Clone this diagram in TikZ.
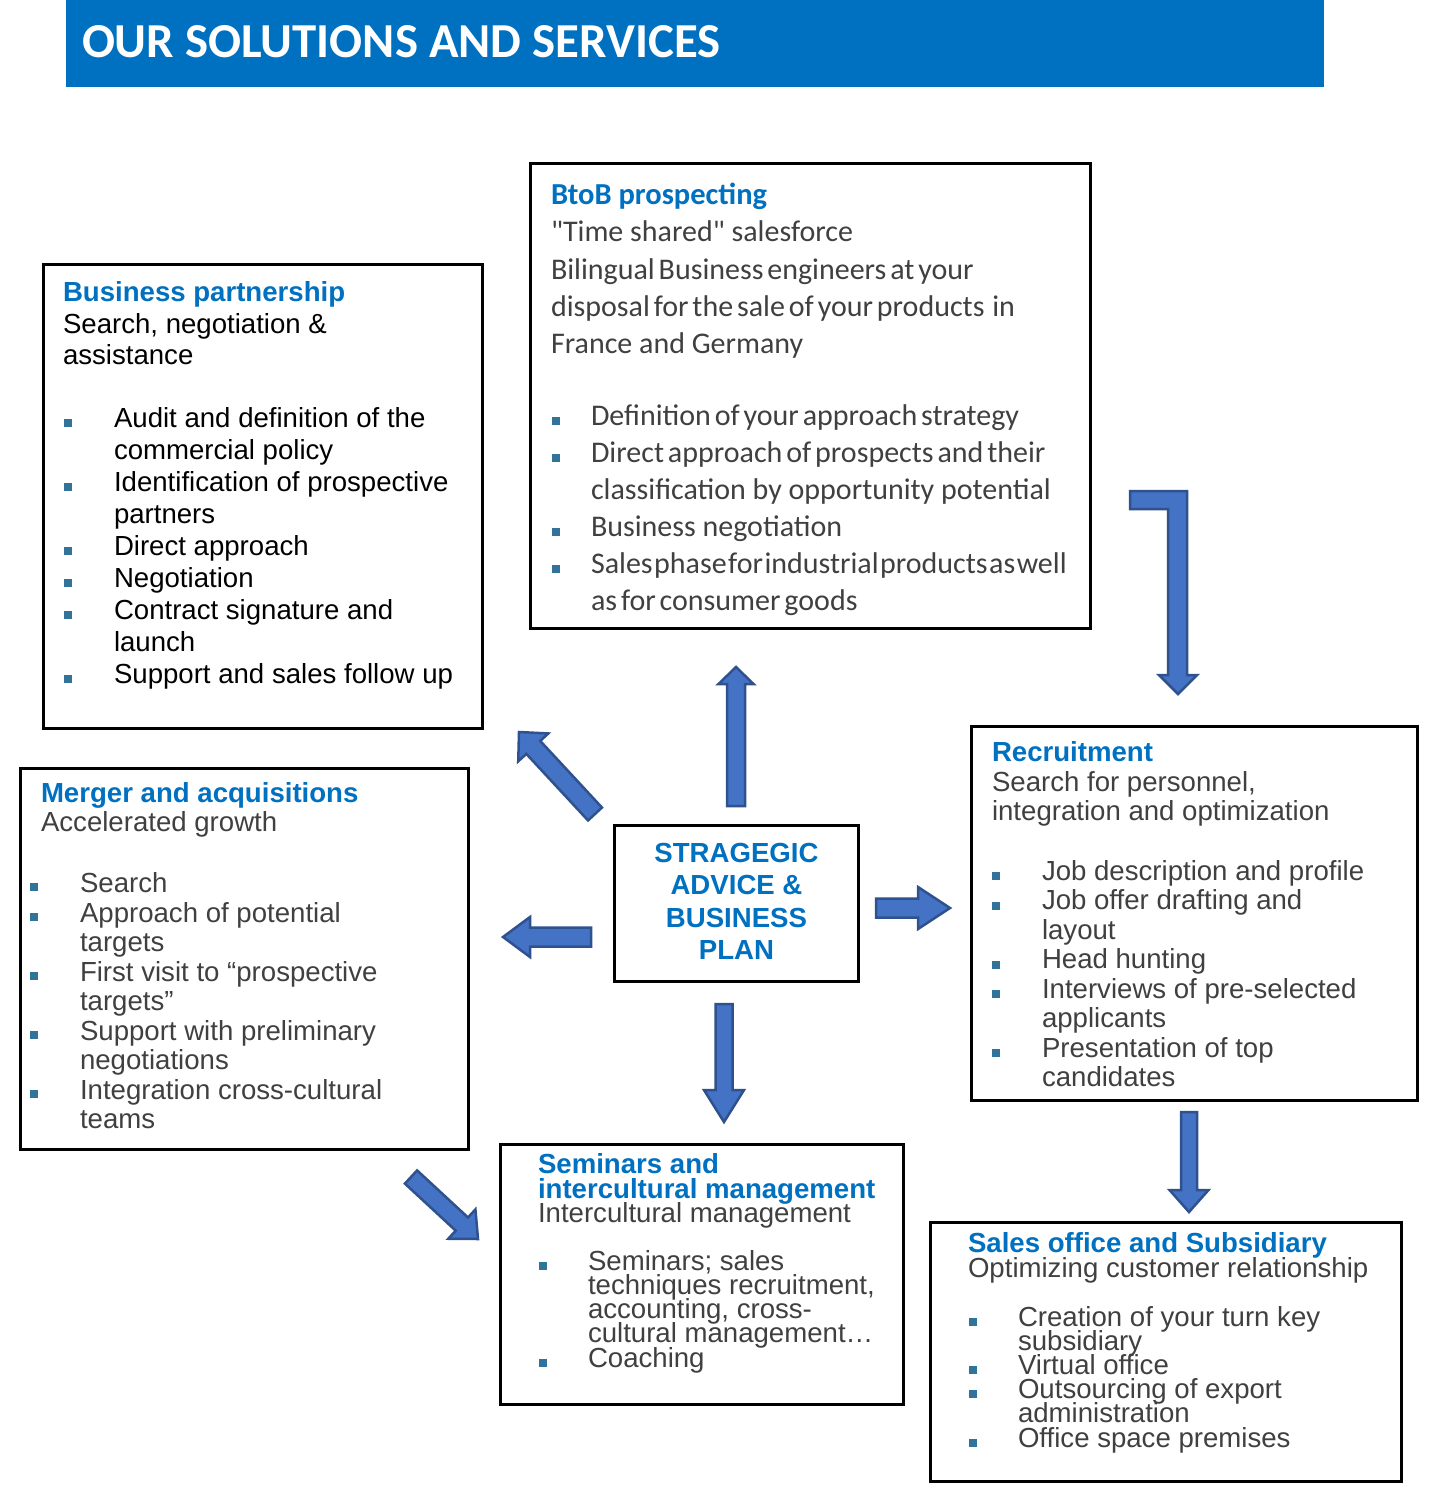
\documentclass[tikz,border=0pt]{standalone}
\usepackage{fontspec}
\setmainfont{Liberation Sans}
\newfontfamily\calibrifont{Carlito}
\usetikzlibrary{calc}
\definecolor{hdrblue}{RGB}{0,112,192}
\definecolor{headblue}{RGB}{0,112,192}
\definecolor{bulc}{RGB}{49,115,155}
\definecolor{graytxt}{RGB}{64,64,64}
\definecolor{arrfill}{RGB}{68,114,196}
\definecolor{arrdraw}{RGB}{47,82,143}
\newcommand\tightsp[1]{\spaceskip=0.13em\relax #1}
\newcommand\tightersp[1]{\spaceskip=0.05em\relax #1}
\newcommand\blockarrow[6]{% name, from, to, shaft half width, head half width, head length
  \coordinate (#1h) at ($(#3)!#6!(#2)$);
  \draw[barrow] ($(#2)!#4!90:(#3)$) -- ($(#1h)!#4!90:(#3)$) -- ($(#1h)!#5!90:(#3)$) -- (#3)
     -- ($(#1h)!#5!-90:(#3)$) -- ($(#1h)!#4!-90:(#3)$) -- ($(#2)!#4!-90:(#3)$) -- cycle;}
\begin{document}
\begin{tikzpicture}[x=1pt,y=-1pt,
  box/.style={draw=black, line width=3pt, inner sep=0pt, fill=none},
  ln/.style={anchor=base west, inner sep=0pt, outer sep=0pt},
  ctrln/.style={anchor=base, inner sep=0pt, outer sep=0pt, text=headblue,
      font=\fontsize{27.6}{32}\selectfont\bfseries},
  ar/.style={ln, font=\fontsize{27.6}{32}\selectfont},
  arb/.style={ln, font=\fontsize{27.6}{32}\selectfont\bfseries, text=headblue},
  cb/.style={ln, font=\calibrifont\fontsize{30}{36}\selectfont, text=graytxt},
  cbb/.style={ln, font=\calibrifont\fontsize{30.5}{36}\selectfont\bfseries, text=headblue},
  bul/.style={fill=bulc, minimum size=8pt, inner sep=0pt, outer sep=0pt},
  barrow/.style={fill=arrfill, draw=arrdraw, line width=2.5pt, line join=miter},
]
\useasboundingbox (0,0) rectangle (1437,1491);
\fill[white] (0,0) rectangle (1437,1491);

% header
\node[fill=hdrblue, minimum width=1258pt, minimum height=87pt, anchor=north west, inner sep=0pt] (hdr) at (66,0) {};
\node[ln, font=\calibrifont\fontsize{48.8}{50}\selectfont\bfseries, text=white] (title) at (82,57) {OUR SOLUTIONS AND SERVICES};

% boxes
\node[box, minimum width=439pt, minimum height=464pt] (bp) at (263,496.5) {};
\node[box, minimum width=560pt, minimum height=465pt] (btob) at (810.5,396) {};
\node[box, minimum width=448pt, minimum height=381pt] (ma) at (244.5,959) {};
\node[box, minimum width=244pt, minimum height=156pt] (ctr) at (736.5,903.5) {};
\node[box, minimum width=446pt, minimum height=374pt] (rec) at (1194.5,913.5) {};
\node[box, minimum width=403pt, minimum height=260pt] (sem) at (702,1274.5) {};
\node[box, minimum width=471pt, minimum height=259pt] (sal) at (1166,1352) {};

% center text
\node[ctrln] (c1) at (736.5,862) {STRAGEGIC};
\node[ctrln] (c2) at (736.5,894) {ADVICE \&};
\node[ctrln] (c3) at (736.5,927) {BUSINESS};
\node[ctrln] (c4) at (736.5,959) {PLAN};

% Business partnership
\node[arb] (bph) at (63,301) {Business partnership};
\node[ar] (bps1) at (63,333) {Search, negotiation \&};
\node[ar] (bps2) at (63,364) {assistance};
\node[ar] (bpl1) at (114,427) {Audit and definition of the};
\node[ar] (bpl2) at (114,459) {commercial policy};
\node[ar] (bpl3) at (114,491) {Identification of prospective};
\node[ar] (bpl4) at (114,523) {partners};
\node[ar] (bpl5) at (114,555) {Direct approach};
\node[ar] (bpl6) at (114,587) {Negotiation};
\node[ar] (bpl7) at (114,619) {Contract signature and};
\node[ar] (bpl8) at (114,651) {launch};
\node[ar] (bpl9) at (114,683) {Support and sales follow up};
\foreach \y [count=\i] in {427,491,555,587,619,683}
  \node[bul] (bpb\i) at (68,\y-4) {};

% BtoB prospecting
\node[cbb] (bth) at (551,204) {BtoB prospecting};
\node[cb] (bts1) at (551,241) {"Time shared" salesforce};
\node[cb] (bts2) at (551,279) {\tightsp{Bilingual Business engineers at your}};
\node[cb] (bts3) at (551,316) {\tightsp{disposal for the sale of your products\ \ in}};
\node[cb] (bts4) at (551,353) {France and Germany};
\node[cb] (btl1) at (591,425) {\tightsp{Definition of your approach strategy}};
\node[cb] (btl2) at (591,462) {\tightsp{Direct approach of prospects and their}};
\node[cb] (btl3) at (591,499) {classification by opportunity potential};
\node[cb] (btl4) at (591,536) {Business negotiation};
\node[cb] (btl5) at (591,573) {\tightersp{Sales phase for industrial products as well}};
\node[cb] (btl6) at (591,610) {\tightsp{as for consumer goods}};
\foreach \y [count=\i] in {425,462,536,573}
  \node[bul] (btb\i) at (556,\y-4) {};

% Merger and acquisitions
\node[arb] (mah) at (41,802) {Merger and acquisitions};
\node[ar, text=graytxt] (mas1) at (41,831) {Accelerated growth};
\node[ar, text=graytxt] (mal1) at (80,892) {Search};
\node[ar, text=graytxt] (mal2) at (80,922) {Approach of potential};
\node[ar, text=graytxt] (mal3) at (80,951) {targets};
\node[ar, text=graytxt] (mal4) at (80,981) {First visit to “prospective};
\node[ar, text=graytxt] (mal5) at (80,1010) {targets”};
\node[ar, text=graytxt] (mal6) at (80,1040) {Support with preliminary};
\node[ar, text=graytxt] (mal7) at (80,1069) {negotiations};
\node[ar, text=graytxt] (mal8) at (80,1099) {Integration cross-cultural};
\node[ar, text=graytxt] (mal9) at (80,1128) {teams};
\foreach \y [count=\i] in {892,922,981,1040,1099}
  \node[bul] (mab\i) at (34,\y-5) {};

% Recruitment
\node[arb] (rch) at (992,761) {Recruitment};
\node[ar, text=graytxt] (rcs1) at (992,791) {Search for personnel,};
\node[ar, text=graytxt] (rcs2) at (992,820) {integration and optimization};
\node[ar, text=graytxt] (rcl1) at (1042,880) {Job description and profile};
\node[ar, text=graytxt] (rcl2) at (1042,909.5) {Job offer drafting and};
\node[ar, text=graytxt] (rcl3) at (1042,939) {layout};
\node[ar, text=graytxt] (rcl4) at (1042,968.5) {Head hunting};
\node[ar, text=graytxt] (rcl5) at (1042,998) {Interviews of pre-selected};
\node[ar, text=graytxt] (rcl6) at (1042,1027.5) {applicants};
\node[ar, text=graytxt] (rcl7) at (1042,1057) {Presentation of top};
\node[ar, text=graytxt] (rcl8) at (1042,1086.5) {candidates};
\foreach \y [count=\i] in {880,909.5,968.5,998,1057}
  \node[bul] (rcb\i) at (996,\y-4) {};

% Seminars
\node[arb] (smh1) at (538,1173) {Seminars and};
\node[arb] (smh2) at (538,1198) {intercultural management};
\node[ar, text=graytxt] (sms1) at (538,1222) {Intercultural management};
\node[ar, text=graytxt] (sml1) at (588,1270) {Seminars; sales};
\node[ar, text=graytxt] (sml2) at (588,1294) {techniques recruitment,};
\node[ar, text=graytxt] (sml3) at (588,1318) {accounting, cross-};
\node[ar, text=graytxt] (sml4) at (588,1342) {cultural management…};
\node[ar, text=graytxt] (sml5) at (588,1367) {Coaching};
\foreach \y [count=\i] in {1270,1367}
  \node[bul] (smb\i) at (543,\y-4) {};

% Sales office
\node[arb] (slh) at (968,1252) {Sales office and Subsidiary};
\node[ar, text=graytxt] (sls1) at (968,1277) {Optimizing customer relationship};
\node[ar, text=graytxt] (sll1) at (1018,1326) {Creation of your turn key};
\node[ar, text=graytxt] (sll2) at (1018,1350) {subsidiary};
\node[ar, text=graytxt] (sll3) at (1018,1374) {Virtual office};
\node[ar, text=graytxt] (sll4) at (1018,1398) {Outsourcing of export};
\node[ar, text=graytxt] (sll5) at (1018,1422) {administration};
\node[ar, text=graytxt] (sll6) at (1018,1447) {Office space premises};
\foreach \y [count=\i] in {1326,1374,1398,1447}
  \node[bul] (slb\i) at (973,\y-4) {};

% arrows
\coordinate (a1s) at (736,806);  \coordinate (a1t) at (736,667);
\coordinate (a2s) at (595,814);  \coordinate (a2t) at (519,732);
\coordinate (a3s) at (591,937);  \coordinate (a3t) at (503,937);
\coordinate (a4s) at (876,908);  \coordinate (a4t) at (950,908);
\coordinate (a5s) at (724,1004); \coordinate (a5t) at (724,1122);
\coordinate (a6s) at (411,1177); \coordinate (a6t) at (478,1239);
\coordinate (a8s) at (1189,1112);\coordinate (a8t) at (1189,1212);
\blockarrow{a1}{a1s}{a1t}{9pt}{17.5pt}{17pt}
\blockarrow{a2}{a2s}{a2t}{9.5pt}{20.5pt}{21pt}
\blockarrow{a3}{a3s}{a3t}{9.5pt}{20pt}{27pt}
\blockarrow{a4}{a4s}{a4t}{9.5pt}{21pt}{32pt}
\blockarrow{a5}{a5s}{a5t}{8.5pt}{20pt}{32pt}
\blockarrow{a6}{a6s}{a6t}{9pt}{20pt}{22pt}
\blockarrow{a8}{a8s}{a8t}{8pt}{19.5pt}{22pt}
% bent arrow from BtoB to Recruitment
\draw[barrow] (1130,491) -- (1187,491) -- (1187,675) -- (1197,675) -- (1178,694)
   -- (1159,675) -- (1168,675) -- (1168,509) -- (1130,509) -- cycle;
\end{tikzpicture}
\end{document}
